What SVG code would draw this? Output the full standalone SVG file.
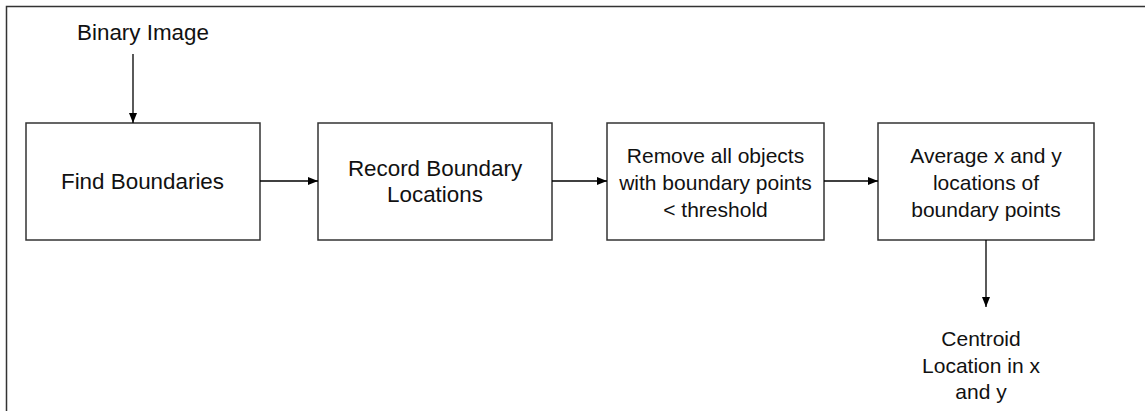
<svg xmlns="http://www.w3.org/2000/svg" width="1145" height="411" viewBox="0 0 1145 411">
<style>
.box{fill:#fff;stroke:#333;stroke-width:1.5}
.t{font-family:"Liberation Sans",Arial,sans-serif;font-size:21px;fill:#111;text-anchor:middle}
.l{font-size:22.4px}
.c{stroke:#000;stroke-width:1.3;fill:none;marker-end:url(#ah)}
</style>
<defs>
<marker id="ah" markerWidth="10" markerHeight="8" refX="10" refY="4" orient="auto" markerUnits="userSpaceOnUse">
<path d="M0,0 L10,4 L0,8 Z" fill="#000"/>
</marker>
</defs>
<rect width="1145" height="411" fill="#fff"/>
<path d="M6.5,411 L6.5,6.5 L1145,6.5" fill="none" stroke="#333" stroke-width="1.5"/>
<g id="input">
<text class="t l" x="143" y="40">Binary Image</text>
</g>
<g id="find">
<rect class="box" x="26" y="123" width="234" height="117"/>
<text class="t l" x="142.5" y="189">Find Boundaries</text>
</g>
<g id="record">
<rect class="box" x="318" y="123" width="234" height="117"/>
<text class="t l" x="435" y="176">Record Boundary</text>
<text class="t l" x="435" y="202">Locations</text>
</g>
<g id="remove">
<rect class="box" x="607" y="123" width="217" height="117"/>
<text class="t" x="715.5" y="163">Remove all objects</text>
<text class="t" x="715.5" y="190">with boundary points</text>
<text class="t" x="715.5" y="217">&lt; threshold</text>
</g>
<g id="average">
<rect class="box" x="878" y="123" width="216" height="117"/>
<text class="t" x="986" y="163">Average x and y</text>
<text class="t" x="986" y="190">locations of</text>
<text class="t" x="986" y="217">boundary points</text>
</g>
<g id="output">
<text class="t" x="981" y="346">Centroid</text>
<text class="t" x="981" y="373">Location in x</text>
<text class="t" x="981" y="399">and y</text>
</g>
<g id="connectors">
<line class="c" x1="133" y1="54" x2="133" y2="123"/>
<line class="c" x1="260" y1="181" x2="318" y2="181"/>
<line class="c" x1="552" y1="181" x2="607" y2="181"/>
<line class="c" x1="824" y1="181" x2="878" y2="181"/>
<line class="c" x1="986" y1="240" x2="986" y2="307"/>
</g>
</svg>
